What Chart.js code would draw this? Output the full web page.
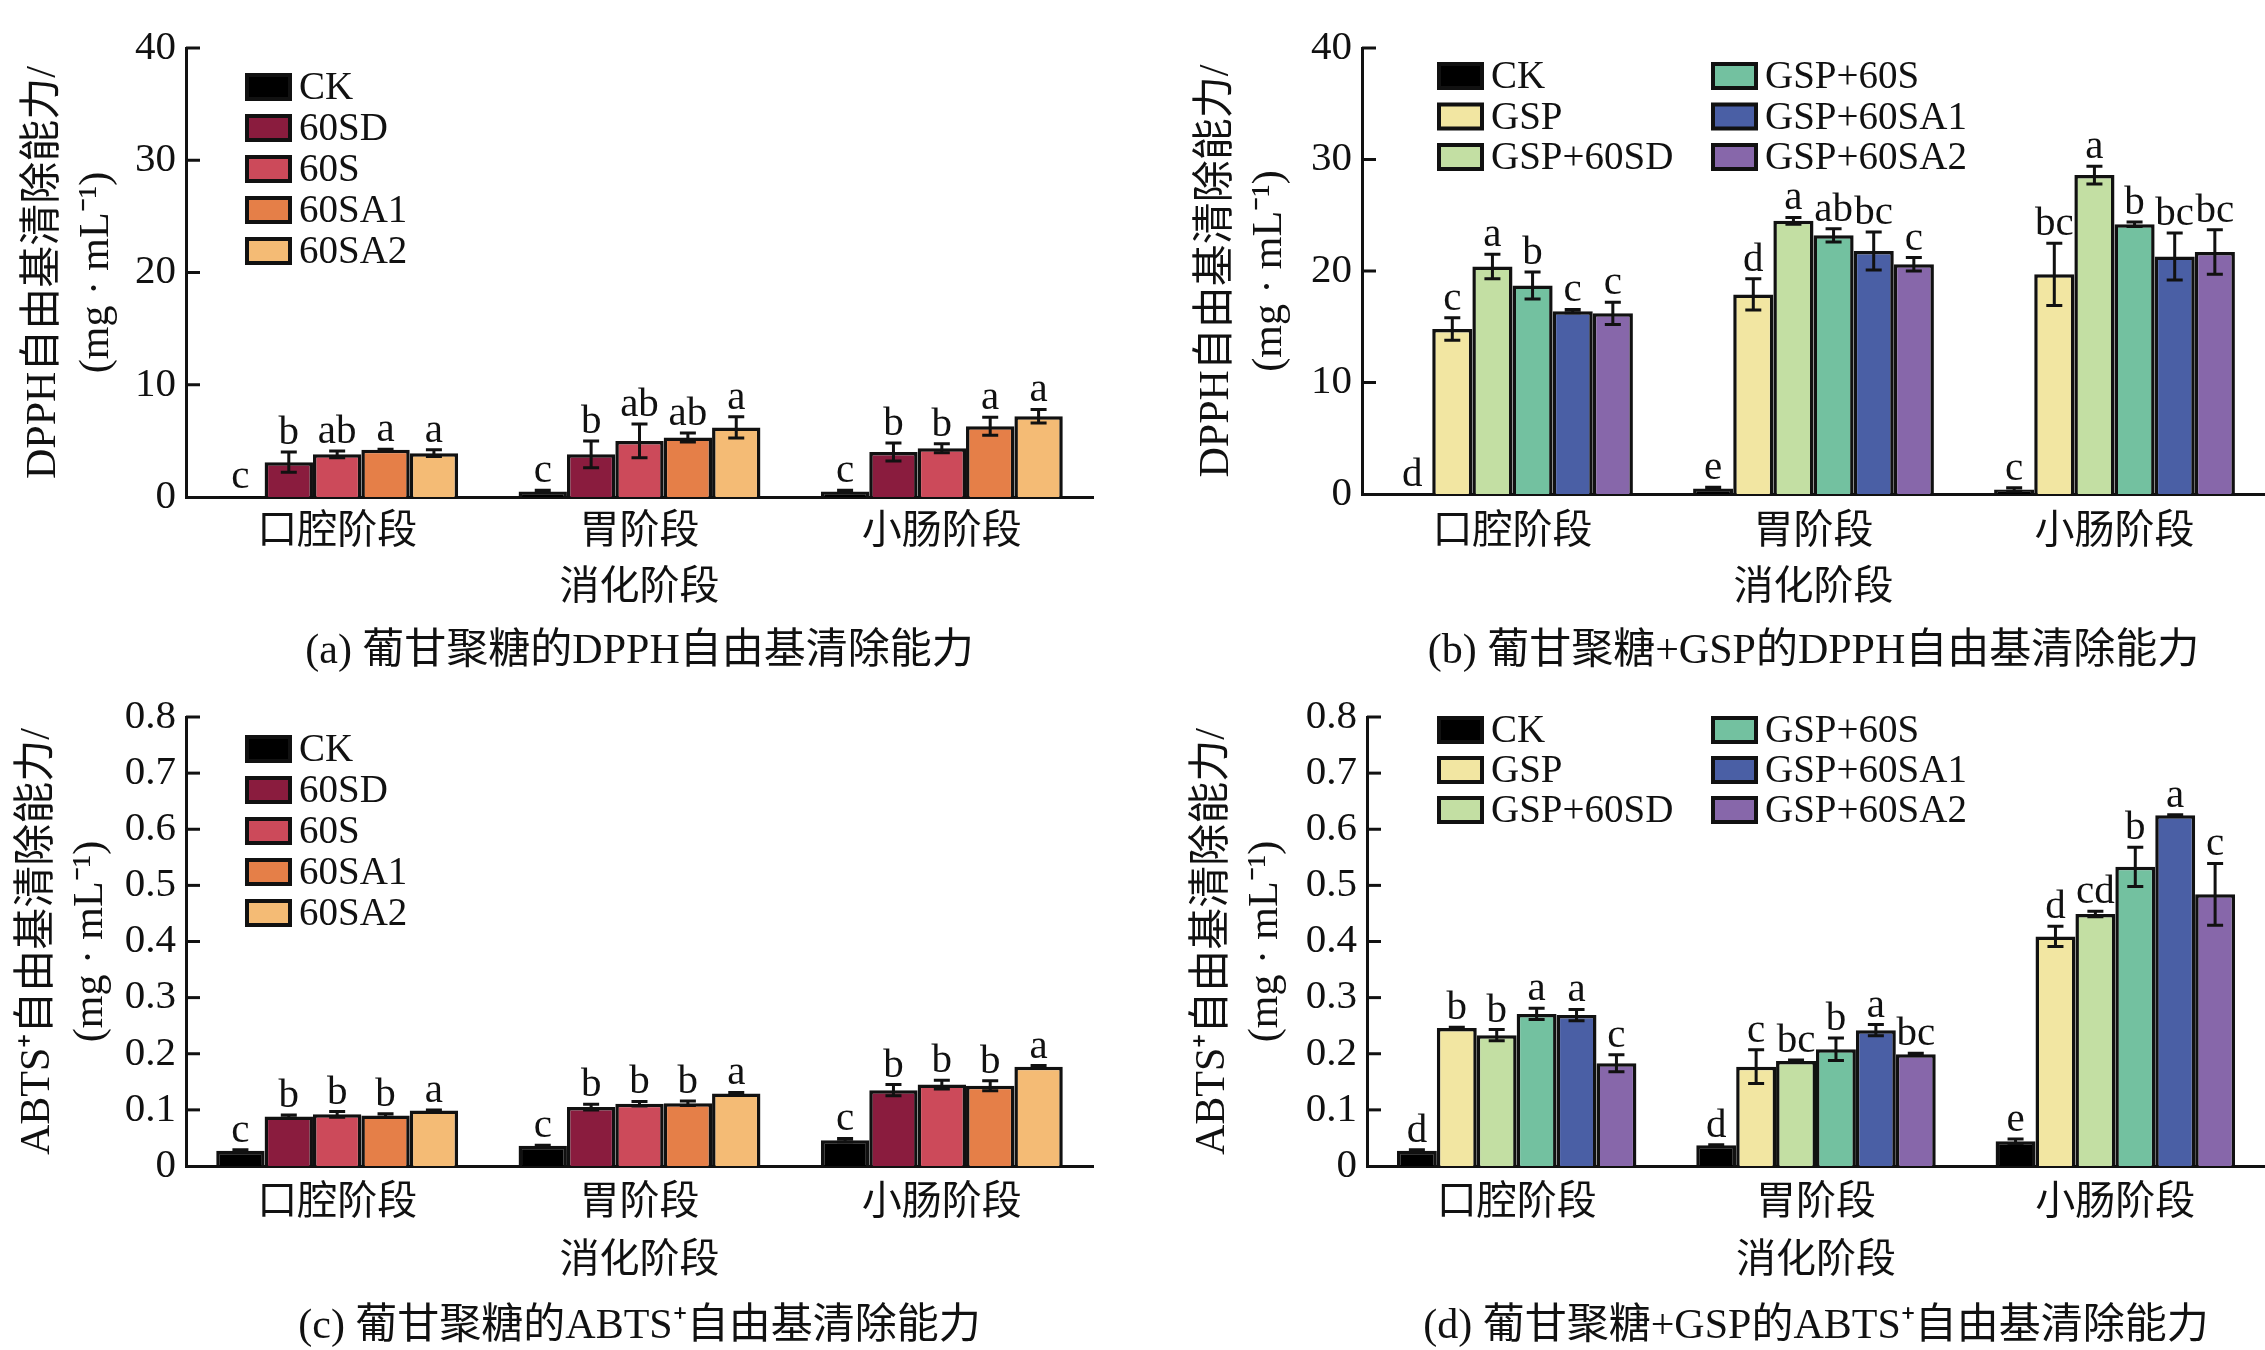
<!DOCTYPE html>
<html>
<head>
<meta charset="utf-8">
<script src="https://cdn.jsdelivr.net/npm/chart.js@4/dist/chart.umd.min.js"></script>
<style>
  html, body { margin:0; padding:0; background:#fff; }
  #page { position:relative; width:2265px; height:1350px; overflow:hidden; background:#fff; }
  .panel { position:absolute; }
  .caption { position:absolute; white-space:nowrap; transform:translate(-50%,-50%);
    font:42px "Liberation Serif","Noto Sans CJK SC",serif; color:#111; }
</style>
</head>
<body>
<div id="page"></div>
<script>
// ---- data ----
const stages = ['口腔阶段', '胃阶段', '小肠阶段'];

const seriesA = ['CK', '60SD', '60S', '60SA1', '60SA2'];
const colorsA = ['#000000', '#8a1c3e', '#cc4a5a', '#e57f48', '#f4bb75'];
const seriesB = ['CK', 'GSP', 'GSP+60SD', 'GSP+60S', 'GSP+60SA1', 'GSP+60SA2'];
const colorsB = ['#000000', '#f2e6a2', '#c3dfa3', '#73c1a0', '#4a5fa5', '#8767aa'];

// (a) DPPH, 葡甘聚糖
const dpphA = [[0.1, 0.5, 0.5], [3.1, 3.8, 4.0], [3.8, 5.0, 4.35], [4.2, 5.3, 6.3], [3.9, 6.2, 7.2]];
const dpphAErr = [[0, 0.1, 0.1], [0.9, 1.2, 0.8], [0.3, 1.5, 0.4], [0.05, 0.4, 0.8], [0.3, 0.95, 0.6]];
const dpphALetters = [['c','c','c'], ['b','b','b'], ['ab','ab','b'], ['a','ab','a'], ['a','a','a']];

// (b) DPPH, 葡甘聚糖+GSP
const dpphB = [[0, 0.5, 0.4], [14.8, 17.9, 19.7], [20.4, 24.5, 28.6], [18.7, 23.2, 24.2], [16.4, 21.8, 21.3], [16.2, 20.6, 21.7]];
const dpphBErr = [[0, 0.1, 0.15], [1.0, 1.4, 2.8], [1.1, 0.3, 0.8], [1.2, 0.6, 0.2], [0.15, 1.7, 2.1], [1.0, 0.6, 2.0]];
const dpphBLetters = [['d','e','c'], ['c','d','bc'], ['a','a','a'], ['b','ab','b'], ['c','bc','bc'], ['c','c','bc']];

// (c) ABTS+, 葡甘聚糖
const abtsA = [[0.027, 0.036, 0.046], [0.088, 0.105, 0.135], [0.092, 0.111, 0.145], [0.090, 0.112, 0.143], [0.099, 0.129, 0.177]];
const abtsAErr = [[0.002, 0.001, 0.003], [0.003, 0.005, 0.01], [0.005, 0.004, 0.008], [0.003, 0.004, 0.009], [0.001, 0.002, 0.002]];
const abtsALetters = [['c','c','c'], ['b','b','b'], ['b','b','b'], ['b','b','b'], ['a','a','a']];

// (d) ABTS+, 葡甘聚糖+GSP
const abtsB = [[0.027, 0.037, 0.044], [0.246, 0.177, 0.409], [0.233, 0.187, 0.449], [0.271, 0.208, 0.533], [0.269, 0.242, 0.625], [0.183, 0.199, 0.484]];
const abtsBErr = [[0.002, 0.001, 0.004], [0.001, 0.03, 0.018], [0.01, 0.002, 0.005], [0.01, 0.02, 0.035], [0.01, 0.01, 0.001], [0.015, 0.002, 0.055]];
const abtsBLetters = [['d','d','e'], ['b','c','d'], ['b','bc','cd'], ['a','b','b'], ['a','a','a'], ['c','bc','c']];

const FONT = '"Liberation Serif", "Noto Sans CJK SC", serif';
const INK = '#111';

// error bars, significance letters, inner y ticks
const errorBarPlugin = {
  id: 'errorBars',
  afterDatasetsDraw(chart) {
    const ctx = chart.ctx, y = chart.scales.y, area = chart.chartArea;
    ctx.save();
    ctx.strokeStyle = INK;
    ctx.lineWidth = 3;
    y.ticks.forEach(t => {
      const py = y.getPixelForValue(t.value);
      if (t.value === y.min) return;
      ctx.beginPath(); ctx.moveTo(area.left, py); ctx.lineTo(area.left + 14, py); ctx.stroke();
    });
    chart.data.datasets.forEach((ds, i) => {
      chart.getDatasetMeta(i).data.forEach((bar, j) => {
        const v = ds.data[j], e = ds.errs[j];
        const top = y.getPixelForValue(v + e), bot = y.getPixelForValue(Math.max(0, v - e));
        if (e > 0.0001 * y.max) {
          ctx.beginPath();
          ctx.moveTo(bar.x, top); ctx.lineTo(bar.x, bot);
          ctx.moveTo(bar.x - 8, top); ctx.lineTo(bar.x + 8, top);
          ctx.moveTo(bar.x - 8, bot); ctx.lineTo(bar.x + 8, bot);
          ctx.stroke();
        }
        ctx.fillStyle = INK;
        ctx.font = '41px ' + FONT;
        ctx.textAlign = 'center';
        ctx.textBaseline = 'alphabetic';
        ctx.fillText(ds.letters[j], bar.x, Math.min(top, bar.y) - 8);
      });
    });
    ctx.restore();
  }
};

// legend drawn inside the plot area
const boxLegendPlugin = {
  id: 'boxLegend',
  afterDraw(chart, args, opts) {
    const ctx = chart.ctx, area = chart.chartArea;
    ctx.save();
    ctx.font = '39px ' + FONT;
    ctx.textBaseline = 'middle';
    ctx.textAlign = 'left';
    chart.data.datasets.forEach((ds, i) => {
      const col = Math.floor(i / opts.rows), row = i % opts.rows;
      const bx = area.left + opts.dx + col * opts.colGap;
      const cy = area.top + opts.dy + row * opts.rowGap;
      ctx.fillStyle = ds.backgroundColor;
      ctx.fillRect(bx, cy - 12, 43, 24);
      ctx.strokeStyle = INK; ctx.lineWidth = 4;
      ctx.strokeRect(bx, cy - 12, 43, 24);
      ctx.fillStyle = INK;
      ctx.fillText(ds.label, bx + 52, cy + 2);
    });
    ctx.restore();
  }
};

function makePanel(p) {
  const page = document.getElementById('page');
  const wrap = document.createElement('div');
  wrap.className = 'panel';
  wrap.style.left = p.left + 'px'; wrap.style.top = p.top + 'px';
  wrap.style.width = p.w + 'px'; wrap.style.height = p.h + 'px';
  const cv = document.createElement('canvas');
  cv.width = p.w; cv.height = p.h;
  cv.style.width = p.w + 'px'; cv.style.height = p.h + 'px';
  wrap.appendChild(cv);
  const cap = document.createElement('div');
  cap.className = 'caption';
  cap.textContent = p.caption;
  cap.style.left = ((p.axisX + p.w - p.padRight) / 2) + 'px';
  cap.style.top = p.capY + 'px';
  wrap.appendChild(cap);
  page.appendChild(wrap);

  new Chart(cv, {
    type: 'bar',
    data: {
      labels: stages,
      datasets: p.series.map((s, i) => ({
        label: s, data: p.values[i], errs: p.errs[i], letters: p.letters[i],
        backgroundColor: p.colors[i], borderColor: INK, borderWidth: 3.5,
        categoryPercentage: 0.8, barPercentage: 1.0
      }))
    },
    options: {
      responsive: false, animation: false, devicePixelRatio: 1,
      layout: { padding: { left: 0, top: p.plotTop, right: p.padRight, bottom: p.h - p.xBottom } },
      plugins: { legend: { display: false }, tooltip: { enabled: false }, boxLegend: p.legend },
      scales: {
        x: {
          grid: { display: false, drawTicks: false },
          border: { display: true, color: INK, width: 3 },
          ticks: { color: INK, font: { family: FONT, size: 40 }, padding: p.xPad },
          title: { display: true, text: '消化阶段', color: INK, font: { family: FONT, size: 40, lineHeight: 1.2 }, padding: { top: 0, bottom: 0 } },
          afterFit: s => { s.height = p.xBottom - p.plotBottom; }
        },
        y: {
          min: 0, max: p.yMax,
          grid: { display: false, drawTicks: false },
          border: { display: true, color: INK, width: 3 },
          ticks: { stepSize: p.yStep, color: INK, padding: 10, font: { family: FONT, size: 41 } },
          title: { display: true, text: p.yTitle, color: INK, font: { family: FONT, size: 42, lineHeight: 1.25 }, padding: { top: p.yTitlePad, bottom: 0 } },
          afterFit: s => { s.width = p.axisX; }
        }
      }
    },
    plugins: [errorBarPlugin, boxLegendPlugin]
  });
}

makePanel({
  left: 0, top: 0, w: 1132, h: 675, axisX: 186, padRight: 39, plotTop: 48, plotBottom: 497, xBottom: 612, xPad: 11, capY: 644,
  yMax: 40, yStep: 10, yTitle: ['DPPH自由基清除能力/', '(mg · mL⁻¹)'], yTitlePad: 18,
  series: seriesA, colors: colorsA, values: dpphA, errs: dpphAErr, letters: dpphALetters,
  legend: { dx: 61, dy: 39, rowGap: 41, colGap: 0, rows: 5 },
  caption: '(a) 葡甘聚糖的DPPH自由基清除能力'
});
makePanel({
  left: 1132, top: 0, w: 1133, h: 675, axisX: 230, padRight: 0, plotTop: 48, plotBottom: 494, xBottom: 612, xPad: 14, capY: 644,
  yMax: 40, yStep: 10, yTitle: ['DPPH自由基清除能力/', '(mg · mL⁻¹)'], yTitlePad: 59,
  series: seriesB, colors: colorsB, values: dpphB, errs: dpphBErr, letters: dpphBLetters,
  legend: { dx: 77, dy: 28, rowGap: 40.5, colGap: 274, rows: 3 },
  caption: '(b) 葡甘聚糖+GSP的DPPH自由基清除能力'
});
makePanel({
  left: 0, top: 675, w: 1132, h: 675, axisX: 186, padRight: 39, plotTop: 42, plotBottom: 491, xBottom: 610, xPad: 13, capY: 644,
  yMax: 0.8, yStep: 0.1, yTitle: ['ABTS⁺自由基清除能力/', '(mg · mL⁻¹)'], yTitlePad: 12,
  series: seriesA, colors: colorsA, values: abtsA, errs: abtsAErr, letters: abtsALetters,
  legend: { dx: 61, dy: 32, rowGap: 41, colGap: 0, rows: 5 },
  caption: '(c) 葡甘聚糖的ABTS⁺自由基清除能力'
});
makePanel({
  left: 1132, top: 675, w: 1133, h: 675, axisX: 235, padRight: 0, plotTop: 42, plotBottom: 491, xBottom: 610, xPad: 13, capY: 644,
  yMax: 0.8, yStep: 0.1, yTitle: ['ABTS⁺自由基清除能力/', '(mg · mL⁻¹)'], yTitlePad: 55,
  series: seriesB, colors: colorsB, values: abtsB, errs: abtsBErr, letters: abtsBLetters,
  legend: { dx: 72, dy: 13, rowGap: 40, colGap: 274, rows: 3 },
  caption: '(d) 葡甘聚糖+GSP的ABTS⁺自由基清除能力'
});
</script>
</body>
</html>
